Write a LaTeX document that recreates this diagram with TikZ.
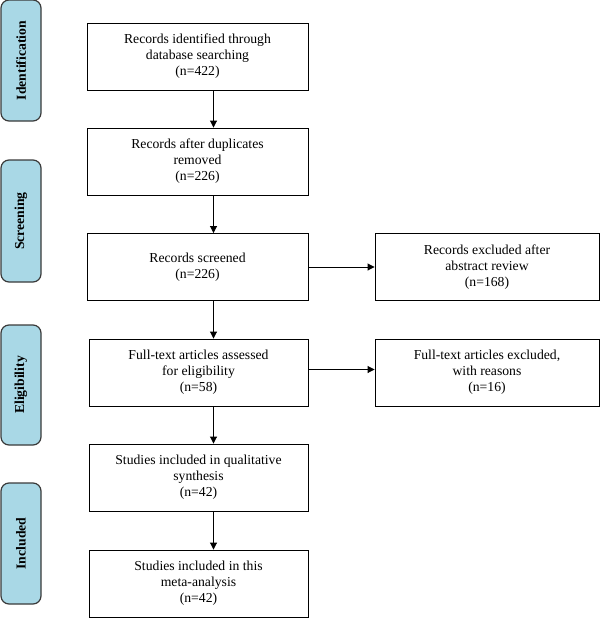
\documentclass[tikz,border=0pt]{standalone}
\usepackage{fontspec}
\setmainfont{Liberation Serif}
\usetikzlibrary{arrows.meta}
\definecolor{phaseblue}{HTML}{A9D8E6}
\definecolor{phaseline}{HTML}{3A3A3A}
\tikzset{
  phase/.style={draw=phaseline, line width=1.2pt, fill=phaseblue, rounded corners=8pt,
    minimum width=40pt, minimum height=121pt, inner sep=0pt},
  phasetext/.style={rotate=90, font=\fontsize{13.7}{16}\selectfont\bfseries},
  stagebox/.style={draw, line width=0.9pt, minimum width=221pt, minimum height=67pt,
    align=center, inner sep=2pt, font=\fontsize{13.7}{16}\selectfont},
  sidebox/.style={stagebox, minimum width=224pt},
  arr/.style={-{Triangle[length=7pt,width=7pt]}, line width=0.9pt}
}
\begin{document}
\begin{tikzpicture}[x=1pt,y=-1pt]
        \useasboundingbox (0,0) rectangle (600,618);

        % phases on the left
        \node[phase] (ident) at (21, 60.5) {};
        \node[phasetext] at (ident) {Identification};
        \node[phase, minimum height=122pt] (screen) at (21, 221) {};
        \node[phasetext] at (screen) {Screening};
        \node[phase, minimum height=120pt] (elig) at (21, 385) {};
        \node[phasetext] at (elig) {Eligibility};
        \node[phase] (incl) at (21, 543.5) {};
        \node[phasetext] at (incl) {Included};

        % main column
        \node[stagebox] (found) at (197.5, 56.5) {Records identified through\\database searching\\(n=422)};
        \node[stagebox] (nodup) at (197.5, 161.5) {Records after duplicates\\removed\\(n=226)};
        \node[stagebox] (screened) at (197.5, 267) {Records screened\\(n=226)};
        \node[stagebox, minimum width=219pt] (fulltext) at (198.5, 372.5) {Full-text articles assessed\\for eligibility\\(n=58)};
        \node[stagebox, minimum width=219pt] (qual) at (198.5, 477.5) {Studies included in qualitative\\synthesis\\(n=42)};
        \node[stagebox, minimum width=219pt] (meta) at (198.5, 583.5) {Studies included in this\\meta-analysis\\(n=42)};

        % exclusions
        \node[sidebox] (absexcl) at (487, 267) {Records excluded after\\abstract review\\(n=168)};
        \node[sidebox] (ftexcl) at (487, 372.5) {Full-text articles excluded,\\with reasons\\(n=16)};

        \draw[arr] ([xshift=16pt]found.south) -- ([xshift=16pt]nodup.north);
        \draw[arr] ([xshift=16pt]nodup.south) -- ([xshift=16pt]screened.north);
        \draw[arr] ([xshift=16pt]screened.south) -- ([xshift=15pt]fulltext.north);
        \draw[arr] ([xshift=15pt]fulltext.south) -- ([xshift=15pt]qual.north);
        \draw[arr] ([xshift=15pt]qual.south) -- ([xshift=15pt]meta.north);

        \draw[arr] (screened.east) -- (absexcl.west);
        \draw[arr] ([yshift=3pt]fulltext.east) -- ([yshift=3pt]ftexcl.west);
\end{tikzpicture}
\end{document}
